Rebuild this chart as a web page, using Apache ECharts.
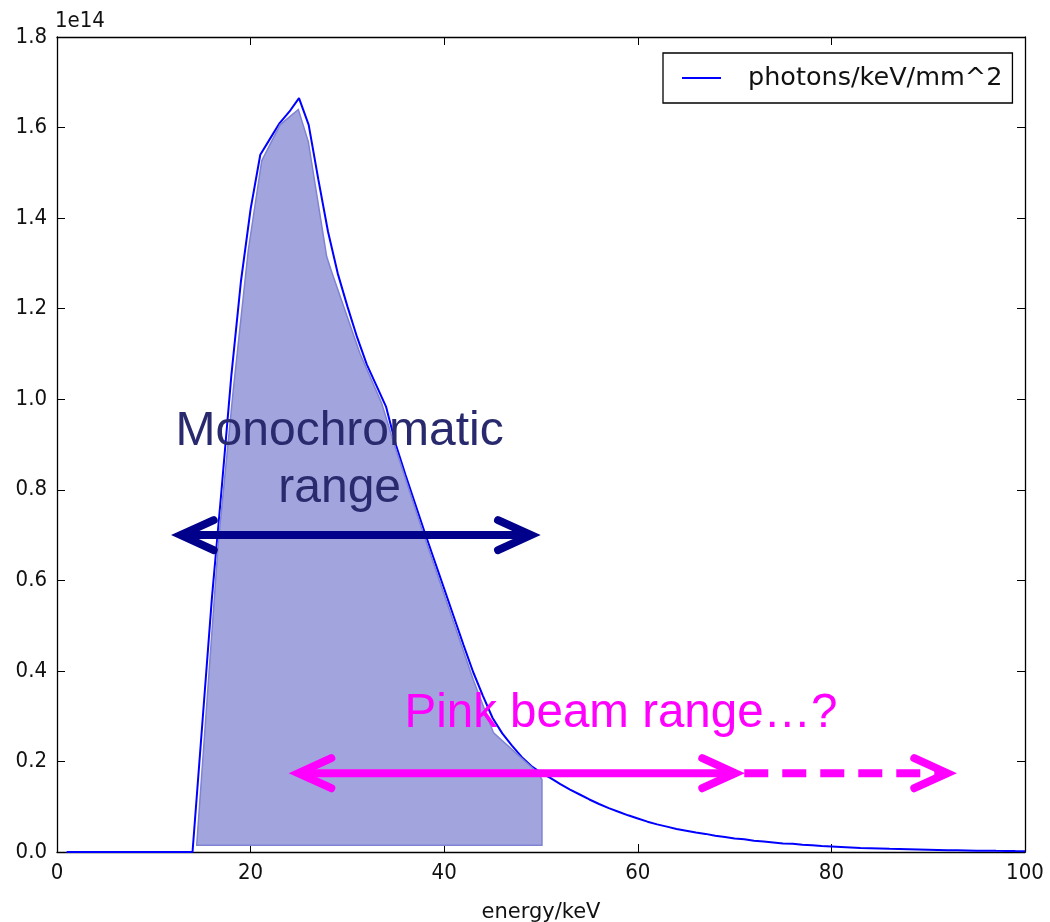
<!DOCTYPE html>
<html>
<head>
<meta charset="utf-8">
<title>Photon spectrum</title>
<script src="https://cdn.jsdelivr.net/npm/echarts@6/dist/echarts.min.js"></script>
<style>
  html, body { margin: 0; padding: 0; background: #ffffff; width: 1050px; height: 922px; overflow: hidden; }
  #chart { width: 1050px; height: 922px; display: block; }
</style>
</head>
<body>
<div id="chart"></div>
<script>
// Photon energies (keV) and spectral flux (units of 1e14 photons/keV/mm^2)
const energy = [
  1, 2, 3, 4, 5, 6, 7, 8, 9, 10,
  11, 12, 13, 14, 15, 16, 17, 18, 19, 20,
  21, 22, 23, 24, 25, 26, 27, 28, 29, 30,
  31, 32, 33, 34, 35, 36, 37, 38, 39, 40,
  41, 42, 43, 44, 45, 46, 47, 48, 49, 50,
  51, 52, 53, 54, 55, 56, 57, 58, 59, 60,
  61, 62, 63, 64, 65, 66, 67, 68, 69, 70,
  71, 72, 73, 74, 75, 76, 77, 78, 79, 80,
  81, 82, 83, 84, 85, 86, 87, 88, 89, 90,
  91, 92, 93, 94, 95, 96, 97, 98, 99, 100
];
const flux = [
  0, 0, 0, 0, 0, 0, 0, 0, 0, 0,
  0, 0, 0, 0, 0.28, 0.56, 0.80, 1.05, 1.26, 1.42,
  1.54, 1.575, 1.61, 1.635, 1.665, 1.606, 1.485, 1.37, 1.278, 1.205,
  1.137, 1.077, 1.03, 0.983, 0.90, 0.833, 0.769, 0.705, 0.643, 0.581,
  0.519, 0.457, 0.397, 0.345, 0.296, 0.262, 0.235, 0.21, 0.19, 0.175,
  0.163, 0.150, 0.138, 0.127, 0.116, 0.106, 0.097, 0.089, 0.081, 0.074,
  0.067, 0.061, 0.056, 0.051, 0.047, 0.043, 0.040, 0.036, 0.033, 0.030,
  0.028, 0.025, 0.023, 0.021, 0.019, 0.018, 0.016, 0.015, 0.013, 0.012,
  0.011, 0.010, 0.009, 0.0085, 0.008, 0.007, 0.0065, 0.006, 0.0055, 0.005,
  0.0045, 0.004, 0.0037, 0.0034, 0.003, 0.0028, 0.0025, 0.0023, 0.002, 0.0018
];

// Shaded outline of the usable part of the spectrum (energy, flux vertices)
const shadeEnergy = [14.43, 16.66, 18.21, 19.76, 21.15, 23.04, 24.93, 25.96, 27.86, 28.38,
                     31.30, 33.54, 34.92, 37.84, 43.01, 45.10, 49.60, 50.10, 50.10];
const shadeFlux   = [0.015, 0.682, 1.020, 1.329, 1.527, 1.606, 1.640, 1.569, 1.315, 1.281,
                     1.101, 0.991, 0.895, 0.704, 0.380, 0.263, 0.176, 0.160, 0.015];

// Range arrows: [from keV, to keV] at a flux level
const monoSpan = [11.85, 49.9];
const monoLevel = 0.70;
const pinkSpan = [24.0, 71.0];
const pinkExtension = [71.0, 92.9];
const pinkLevel = 0.174;

// Annotation labels and their anchor points (keV, flux)
const monoLabel = ['Monochromatic', 'range'];
const monoLabelAt = [[29.2, 0.929], [29.2, 0.803]];
const pinkLabel = 'Pink beam range\u2026?';
const pinkLabelAt = [35.9, 0.304];

const xTicks = { min: 0, max: 100, step: 20 };
const yTicks = { min: 0, max: 1.8, step: 0.2 };
const seriesName = 'photons/keV/mm^2';
const axisName = 'energy/keV';
const scaleNote = '1e14';

const tickFont = '"DejaVu Sans Condensed", "DejaVu Sans", sans-serif';
const plainFont = '"DejaVu Sans", sans-serif';
const annFont = '"Liberation Sans", Arial, sans-serif';

const chart = echarts.init(document.getElementById('chart'), null, { renderer: 'canvas', width: 1050, height: 922 });

function frameAxis(pos, range, showLabel, extra) {
  return Object.assign({
    type: 'value',
    position: pos,
    min: range.min,
    max: range.max,
    interval: range.step,
    axisLine: { show: true, onZero: false, lineStyle: { color: '#000', width: 1.3 } },
    axisTick: { show: true, inside: true, length: 8, lineStyle: { color: '#000', width: 1 } },
    splitLine: { show: false },
    axisLabel: { show: showLabel, fontFamily: tickFont, fontSize: 22, color: '#111', margin: 10 }
  }, extra || {});
}

// Arrow with open chevron heads; the miter tip is pulled back so it lands on the end value
function arrow(api, from, to, level, color, opt) {
  const a = api.coord([from, level]);
  const b = api.coord([to, level]);
  const children = [];
  const back = 33, spread = 15, w = 8, miter = 9;
  const ax = a[0] + miter, bx = b[0] - miter;
  children.push({
    type: 'line',
    shape: { x1: opt.headStart ? ax + 2 : a[0], y1: a[1], x2: opt.headEnd ? bx - 2 : b[0], y2: b[1] },
    style: { stroke: color, lineWidth: w, lineCap: 'butt', lineDash: opt.dash || null }
  });
  if (opt.headStart) {
    children.push({
      type: 'polyline',
      shape: { points: [[ax + back, a[1] - spread], [ax, a[1]], [ax + back, a[1] + spread]] },
      style: { stroke: color, lineWidth: w, lineCap: 'round', lineJoin: 'miter', miterLimit: 10, fill: null }
    });
  }
  if (opt.headEnd) {
    children.push({
      type: 'polyline',
      shape: { points: [[bx - back, b[1] - spread], [bx, b[1]], [bx - back, b[1] + spread]] },
      style: { stroke: color, lineWidth: w, lineCap: 'round', lineJoin: 'miter', miterLimit: 10, fill: null }
    });
  }
  return children;
}

const option = {
  animation: false,
  backgroundColor: '#ffffff',
  grid: { left: 57, top: 37, right: 25, bottom: 70, containLabel: false, outerBoundsMode: 'none' },
  legend: {
    data: [seriesName],
    left: 663,
    top: 53,
    orient: 'vertical',
    backgroundColor: '#ffffff',
    borderColor: '#000',
    borderWidth: 1.3,
    borderRadius: 0,
    padding: [12, 10, 12, 19],
    itemWidth: 39,
    itemHeight: 2,
    icon: 'rect',
    textStyle: { fontFamily: plainFont, fontSize: 25.5, color: '#111', padding: [0, 0, 0, 22] }
  },
  xAxis: [
    frameAxis('bottom', xTicks, true, {
      name: axisName,
      nameLocation: 'middle',
      nameGap: 50,
      nameTextStyle: { fontFamily: plainFont, fontSize: 21, color: '#111' }
    }),
    frameAxis('top', xTicks, false)
  ],
  yAxis: [
    frameAxis('left', yTicks, true, {
      axisLabel: {
        show: true, fontFamily: tickFont, fontSize: 22, color: '#111', margin: 10,
        formatter: v => v.toFixed(1)
      }
    }),
    frameAxis('right', yTicks, false)
  ],
  graphic: [{
    type: 'text',
    left: 55,
    top: 10,
    style: { text: scaleNote, fontFamily: tickFont, fontSize: 22, fill: '#111' }
  }],
  series: [
    {
      name: seriesName,
      type: 'line',
      data: energy.map((e, i) => [e, flux[i]]),
      showSymbol: false,
      symbol: 'none',
      lineStyle: { color: '#0000ff', width: 2 },
      itemStyle: { color: '#0000ff' },
      z: 2
    },
    {
      name: 'shade',
      type: 'custom',
      data: [[0, 0]],
      z: 3,
      silent: true,
      clip: false,
      renderItem: (params, api) => ({
        type: 'polygon',
        shape: { points: shadeEnergy.map((e, i) => api.coord([e, shadeFlux[i]])) },
        style: { fill: '#a2a4de', stroke: '#7f83d2', lineWidth: 1.5 }
      })
    },
    {
      name: 'annotations',
      type: 'custom',
      data: [[0, 0]],
      z: 4,
      silent: true,
      clip: false,
      renderItem: (params, api) => {
        const children = [];
        monoLabel.forEach((t, i) => {
          const p = api.coord(monoLabelAt[i]);
          children.push({
            type: 'text',
            style: { text: t, x: p[0], y: p[1], fill: '#29296e', fontFamily: annFont, fontSize: 48, align: 'center', verticalAlign: 'middle' }
          });
        });
        const pp = api.coord(pinkLabelAt);
        children.push({
          type: 'text',
          style: { text: pinkLabel, x: pp[0], y: pp[1], fill: '#ff00ff', fontFamily: annFont, fontSize: 47.5, align: 'left', verticalAlign: 'middle' }
        });
        children.push(...arrow(api, monoSpan[0], monoSpan[1], monoLevel, '#00008b', { headStart: true, headEnd: true }));
        children.push(...arrow(api, pinkSpan[0], pinkSpan[1], pinkLevel, '#ff00ff', { headStart: true, headEnd: true }));
        children.push(...arrow(api, pinkExtension[0], pinkExtension[1], pinkLevel, '#ff00ff', { headStart: false, headEnd: true, dash: [24, 14] }));
        return { type: 'group', children };
      }
    }
  ]
};

chart.setOption(option);
</script>
</body>
</html>
